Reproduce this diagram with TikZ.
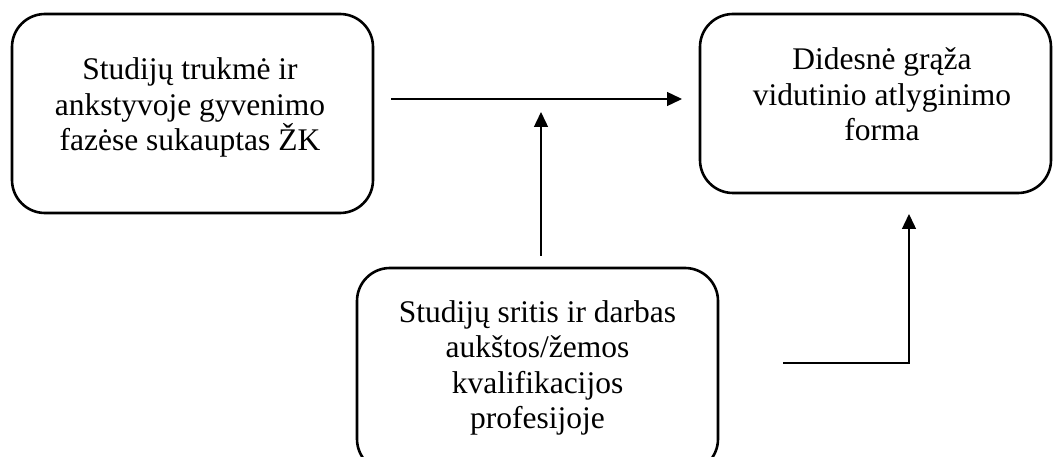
\documentclass[tikz,border=0pt]{standalone}
\usepackage{fontspec}
\setmainfont{Liberation Serif}
\usetikzlibrary{arrows.meta}
\begin{document}
\begin{tikzpicture}[x=1pt,y=-1pt,
  box/.style={draw=black, line width=2.6pt, rounded corners=33pt, rectangle, inner sep=0pt},
  txt/.style={align=center, inner sep=0pt, font=\fontsize{31.5}{35.5}\selectfont},
  arr/.style={line width=1.4pt, -{Triangle[length=15pt,width=14pt]}},
  ln/.style={line width=1.4pt}]
\useasboundingbox (0,0) rectangle (1053,457);
\clip (0,0) rectangle (1053,457);
% boxes
\node[box, minimum width=361pt, minimum height=199pt] (A) at (192.5,113.5) {};
\node[box, minimum width=351pt, minimum height=179pt] (B) at (875.5,103.5) {};
\node[box, minimum width=361pt, minimum height=204pt] (C) at (537.5,370) {};
% texts
\node[txt] (At) at (190,108.4) {\strut Studijų trukmė ir\\ankstyvoje gyvenimo\\fazėse sukauptas ŽK\strut};
\node[txt] (Bt) at (882,98.4) {\strut Didesnė grąža\\vidutinio atlyginimo\\forma\strut};
\node[txt] (Ct) at (537.5,368.2) {\strut Studijų sritis ir darbas\\aukštos/žemos\\kvalifikacijos\\profesijoje\strut};
% connector ends
\coordinate (h1) at (391,99);
\coordinate (h2) at (682,99);
\coordinate (v1) at (541,256);
\coordinate (v2) at (541,112);
\coordinate (e1) at (783,363);
\coordinate (e2) at (909,363);
\coordinate (e3) at (909,214);
% connectors
\draw[arr] (h1) -- (h2);
\draw[arr] (v1) -- (v2);
\draw[arr] (e1) -- (e2) -- (e3);
\end{tikzpicture}
\end{document}
